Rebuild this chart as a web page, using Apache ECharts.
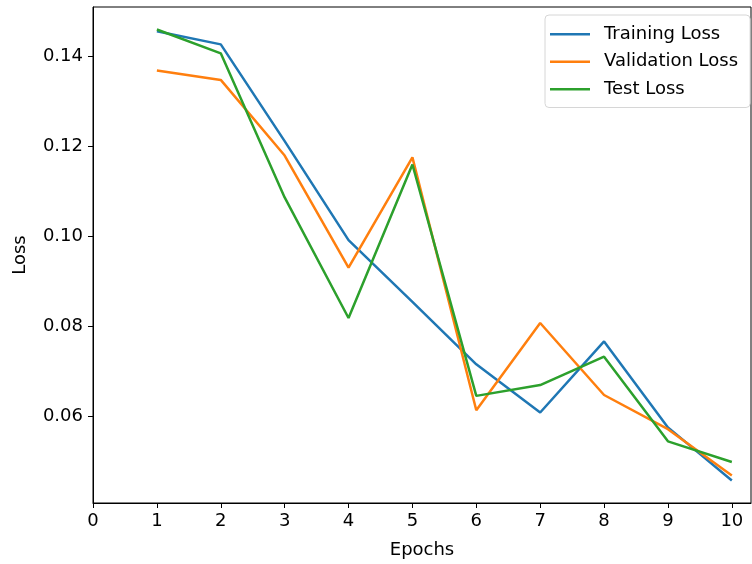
<!DOCTYPE html>
<html>
<head>
<meta charset="utf-8">
<script src="https://cdn.jsdelivr.net/npm/echarts@6/dist/echarts.min.js"></script>
<style>
  html, body { margin: 0; padding: 0; background: #fff; }
  #chart { width: 752px; height: 564px; }
</style>
</head>
<body>
<div id="chart"></div>
<script>
const epochs = [1, 2, 3, 4, 5, 6, 7, 8, 9, 10]
const trainingLoss = [0.1456, 0.1427, 0.1212, 0.0992, 0.0855, 0.0716, 0.0609, 0.0767, 0.0576, 0.0458]
const validationLoss = [0.1369, 0.1348, 0.1180, 0.0931, 0.1176, 0.0614, 0.0808, 0.0648, 0.0572, 0.0469]
const testLoss = [0.1460, 0.1407, 0.1087, 0.0819, 0.1160, 0.0646, 0.0670, 0.0733, 0.0545, 0.0499]
const xTicks = [0, 1, 2, 3, 4, 5, 6, 7, 8, 9, 10]
const yTicks = [0.06, 0.08, 0.10, 0.12, 0.14]

const font = 'DejaVu Sans'
const txt = { color: '#000', fontFamily: font, fontSize: 18 }

const pairs = (vals) => epochs.map((e, i) => [e, vals[i]])

const chart = echarts.init(document.getElementById('chart'), null, { renderer: 'canvas' })

chart.setOption({
  animation: false,
  grid: {
    left: 93, right: 1, top: 7, bottom: 59,
    show: true, borderColor: '#000', borderWidth: 1, backgroundColor: 'transparent'
  },
  legend: {
    orient: 'vertical',
    left: 545,
    top: 15,
    padding: [9, 12, 8, 5],
    icon: 'rect',
    itemWidth: 40,
    itemHeight: 2.5,
    itemGap: 7,
    borderColor: '#d6d6d6',
    borderWidth: 1,
    borderRadius: 4,
    textStyle: { ...txt, lineHeight: 20.5, padding: [0, 0, 0, 9] },
    data: ['Training Loss', 'Validation Loss', 'Test Loss']
  },
  xAxis: {
    type: 'value',
    min: 0,
    max: 10.3,
    name: 'Epochs',
    nameLocation: 'middle',
    nameGap: 38,
    nameTextStyle: txt,
    splitLine: { show: false },
    axisLine: { show: true, lineStyle: { color: '#000', width: 1 } },
    axisTick: { show: true, length: 5, customValues: xTicks, lineStyle: { color: '#000' } },
    axisLabel: { ...txt, margin: 9, customValues: xTicks }
  },
  yAxis: {
    type: 'value',
    min: 0.0408,
    max: 0.151,
    name: 'Loss',
    nameLocation: 'middle',
    nameGap: 64,
    nameTextStyle: txt,
    splitLine: { show: false },
    axisLine: { show: true, lineStyle: { color: '#000', width: 1 } },
    axisTick: { show: true, length: 5, customValues: yTicks, lineStyle: { color: '#000' } },
    axisLabel: { ...txt, margin: 10, customValues: yTicks, formatter: (v) => v.toFixed(2) }
  },
  series: [
    { name: 'Training Loss', type: 'line', data: pairs(trainingLoss), symbol: 'none',
      color: '#1f77b4', lineStyle: { width: 2.5, color: '#1f77b4' } },
    { name: 'Validation Loss', type: 'line', data: pairs(validationLoss), symbol: 'none',
      color: '#ff7f0e', lineStyle: { width: 2.5, color: '#ff7f0e' } },
    { name: 'Test Loss', type: 'line', data: pairs(testLoss), symbol: 'none',
      color: '#2ca02c', lineStyle: { width: 2.5, color: '#2ca02c' } }
  ]
})
</script>
</body>
</html>
